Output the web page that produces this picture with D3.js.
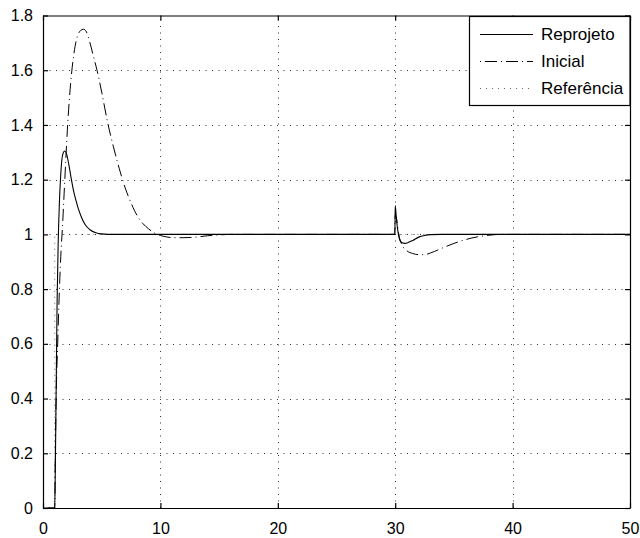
<!DOCTYPE html>
<html><head><meta charset="utf-8">
<script src="https://cdn.jsdelivr.net/npm/d3@7"></script>
<style>
html,body{margin:0;padding:0;background:#fff;}
svg{display:block;font-family:"Liberation Sans",Arial,Helvetica,sans-serif;}
</style></head>
<body><svg id="c" width="640" height="538"></svg>
<script>
// ---- data ----
const xTicks = [0, 10, 20, 30, 40, 50];
const yTicks = [0, 0.2, 0.4, 0.6, 0.8, 1, 1.2, 1.4, 1.6, 1.8];
const yTickLabels = ["0", "0.2", "0.4", "0.6", "0.8", "1", "1.2", "1.4", "1.6", "1.8"];
const seriesNames = ["Reprojeto", "Inicial", "Referência"];

const reprojetoT = [0, 1, 1.05, 1.1, 1.15, 1.2, 1.3, 1.4, 1.5, 1.6, 1.7, 1.85, 2.0, 2.2, 2.4, 2.6, 2.8, 3.0, 3.3, 3.6, 4.0, 4.5, 5.0, 6.0, 29.97, 30.0, 30.1, 30.2, 30.35, 30.5, 30.8, 31.1, 31.5, 32.0, 32.5, 33.0, 34.0, 50];
const reprojetoV = [0, 0, 0.15, 0.35, 0.55, 0.75, 0.98, 1.12, 1.21, 1.27, 1.295, 1.305, 1.295, 1.255, 1.205, 1.16, 1.125, 1.095, 1.06, 1.035, 1.017, 1.006, 1.002, 1.0, 1.0, 1.105, 1.06, 1.02, 0.985, 0.972, 0.967, 0.97, 0.978, 0.99, 0.996, 0.999, 1.0, 1.0];

const inicialT = [0, 1, 1.05, 1.12, 1.25, 1.4, 1.55, 1.65, 1.8, 1.95, 2.1, 2.35, 2.6, 2.9, 3.2, 3.45, 3.7, 4.0, 4.3, 4.6, 5.0, 5.5, 6.0, 6.5, 7.0, 7.5, 8.0, 8.5, 9.0, 9.5, 10, 10.5, 11, 12, 13, 14, 15, 16, 29.97, 30.0, 30.1, 30.3, 30.6, 31, 31.5, 32, 32.5, 33, 34, 35, 36, 37, 38, 39, 50];
const inicialV = [0, 0, 0.2, 0.4, 0.6, 0.8, 0.95, 1.02, 1.15, 1.28, 1.4, 1.55, 1.65, 1.72, 1.745, 1.75, 1.74, 1.70, 1.65, 1.6, 1.52, 1.41, 1.32, 1.24, 1.17, 1.115, 1.07, 1.04, 1.02, 1.005, 0.996, 0.991, 0.988, 0.988, 0.99, 0.995, 0.998, 1.0, 1.0, 1.07, 1.06, 1.0, 0.96, 0.94, 0.93, 0.926, 0.926, 0.932, 0.95, 0.967, 0.981, 0.991, 0.997, 1.0, 1.0];

const referenciaT = [0, 1, 1, 50];
const referenciaV = [0, 0, 1, 1];

// ---- layout ----
const L = 43, R = 630, T = 15.5, B = 508;
const svg = d3.select("#c");
const x = d3.scaleLinear().domain([0, 50]).range([L, R]);
const y = d3.scaleLinear().domain([0, 1.8]).range([B, T]);

// grid
const grid = svg.append("g").attr("stroke", "#000").attr("stroke-width", 1).attr("stroke-dasharray", "1,5.5").attr("opacity", 0.8);
xTicks.slice(1, -1).forEach(t => grid.append("line").attr("x1", Math.round(x(t)) + 0.5).attr("x2", Math.round(x(t)) + 0.5).attr("y1", B).attr("y2", T));
yTicks.slice(1, -1).forEach(t => grid.append("line").attr("y1", Math.round(y(t)) + 0.5).attr("y2", Math.round(y(t)) + 0.5).attr("x1", L).attr("x2", R));

// clip
svg.append("clipPath").attr("id", "clip").append("rect").attr("x", L).attr("y", T).attr("width", R - L).attr("height", B - T);

const line = d3.line().x(d => x(d[0])).y(d => y(d[1]));
const plot = svg.append("g").attr("clip-path", "url(#clip)").attr("fill", "none");

const refData = referenciaT.map((t, i) => [t, referenciaV[i]]);
const iniData = inicialT.map((t, i) => [t, inicialV[i]]);
const repData = reprojetoT.map((t, i) => [t, reprojetoV[i]]);

const styles = [
  {stroke: "#000", dash: null, width: 1.1},
  {stroke: "#000", dash: "1,4,12,4", width: 1},
  {stroke: "#666", dash: "1,5", width: 1}
];

plot.append("path").datum(refData).attr("d", line).attr("stroke", styles[2].stroke).attr("stroke-width", styles[2].width).attr("stroke-dasharray", styles[2].dash);
plot.append("path").datum(iniData).attr("d", d3.line().x(d => x(d[0])).y(d => y(d[1])).curve(d3.curveMonotoneX)).attr("stroke", styles[1].stroke).attr("stroke-width", styles[1].width).attr("stroke-dasharray", styles[1].dash);
plot.append("path").datum(repData).attr("d", d3.line().x(d => x(d[0])).y(d => y(d[1])).curve(d3.curveMonotoneX)).attr("stroke", styles[0].stroke).attr("stroke-width", styles[0].width);

// axes (MATLAB style box with inward ticks)
const tickLen = 5;
const axB = svg.append("g").attr("transform", `translate(0,${B})`)
  .call(d3.axisBottom(x).tickValues(xTicks).tickSizeInner(-tickLen).tickSizeOuter(0).tickPadding(15));
const axT = svg.append("g").attr("transform", `translate(0,${T})`)
  .call(d3.axisTop(x).tickValues(xTicks).tickSizeInner(-tickLen).tickSizeOuter(0).tickFormat(""));
const axL = svg.append("g").attr("transform", `translate(${L},0)`)
  .call(d3.axisLeft(y).tickValues(yTicks).tickSizeInner(-tickLen).tickSizeOuter(0).tickPadding(10).tickFormat((d, i) => yTickLabels[i]));
const axR = svg.append("g").attr("transform", `translate(${R},0)`)
  .call(d3.axisRight(y).tickValues(yTicks).tickSizeInner(-tickLen).tickSizeOuter(0).tickFormat(""));
[axB, axT, axL, axR].forEach(a => {
  a.selectAll("path,line").attr("stroke", "#000").attr("stroke-width", 1.2);
  a.selectAll("text").attr("fill", "#000").attr("font-size", 16).attr("font-family", "Liberation Sans, Arial, sans-serif");
});
axB.selectAll("text").attr("dy", "0.71em");

// legend
const lg = svg.append("g");
const lx0 = 469.5, ly0 = 16.5, lw = 160.5, lh = 89;
lg.append("rect").attr("x", lx0).attr("y", ly0).attr("width", lw).attr("height", lh).attr("fill", "#fff").attr("stroke", "#000").attr("stroke-width", 1.2);
const rowY = [34, 61, 88];
seriesNames.forEach((n, i) => {
  lg.append("line").attr("x1", 480).attr("x2", 533).attr("y1", rowY[i] + 0.5).attr("y2", rowY[i] + 0.5)
    .attr("stroke", styles[i].stroke).attr("stroke-width", styles[i].width).attr("stroke-dasharray", styles[i].dash);
  lg.append("text").attr("x", 541).attr("y", rowY[i]).attr("dy", "0.35em").attr("font-size", 17).attr("fill", "#000").text(n);
});
</script></body></html>
